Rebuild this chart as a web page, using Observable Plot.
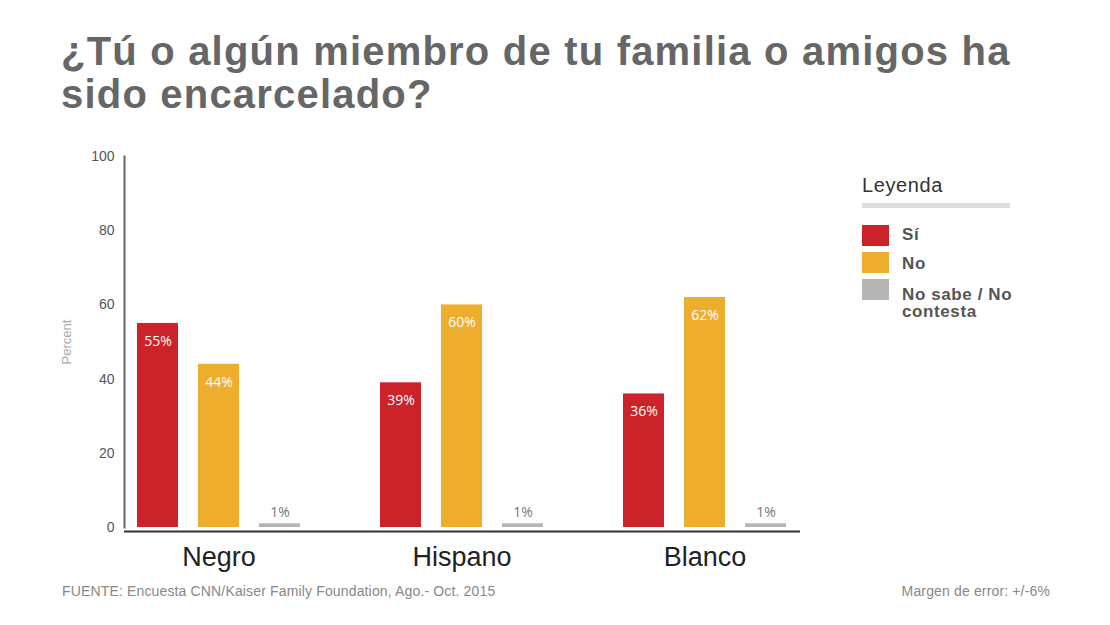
<!DOCTYPE html>
<html>
<head>
<meta charset="utf-8">
<script src="https://cdn.jsdelivr.net/npm/d3@7"></script>
<script src="https://cdn.jsdelivr.net/npm/@observablehq/plot@0.6"></script>
<style>
  html, body { margin: 0; padding: 0; background: #fff; }
  body { width: 1110px; height: 625px; position: relative; overflow: hidden; font-family: "Liberation Sans", Arial, sans-serif; }
  #title { position: absolute; left: 61px; top: 30px; width: 990px; font-size: 40px; line-height: 43px; letter-spacing: 1.2px; font-weight: bold; color: #666; }
  #chart { position: absolute; left: 0; top: 140px; }
  .abs { position: absolute; }
  #leghead { left: 862px; top: 174px; font-size: 20px; letter-spacing: 0.6px; color: #333; line-height: 22px; }
  #legline { left: 862px; top: 203px; width: 148px; height: 5px; background: #ddd; }
  .sw { width: 27px; height: 21px; }
  .lab { font-size: 17px; letter-spacing: 0.6px; font-weight: bold; color: #555; line-height: 17px; width: 150px; }
  #src { left: 62px; top: 583px; font-size: 14px; letter-spacing: 0.15px; color: #888; }
  #moe { right: 60px; top: 583px; font-size: 14px; letter-spacing: 0.15px; color: #888; }
</style>
</head>
<body>
<div id="title">¿Tú o algún miembro de tu familia o amigos ha sido encarcelado?</div>
<div id="chart"></div>
<div id="leghead" class="abs">Leyenda</div>
<div id="legline" class="abs"></div>
<div id="legend"></div>
<div id="src" class="abs">FUENTE: Encuesta CNN/Kaiser Family Foundation, Ago.- Oct. 2015</div>
<div id="moe" class="abs">Margen de error: +/-6%</div>
<script>
const groups = ["Negro", "Hispano", "Blanco"];
const series = ["Sí", "No", "No sabe / No contesta"];
const si = [55, 39, 36];
const no = [44, 60, 62];
const nsnc = [1, 1, 1];
const yTicks = [0, 20, 40, 60, 80, 100];
const colors = ["#cc2229", "#efad2d", "#b5b5b5"];

const valuesBySeries = [si, no, nsnc];
const data = groups.flatMap((g, i) => series.map((s, k) => ({group: g, series: s, value: valuesBySeries[k][i]})));

const offsets = [-61, 0, 61];
const marks = [];
series.forEach((s, k) => {
  const sub = data.filter(d => d.series === s);
  marks.push(Plot.barY(sub, {x: "group", y: "value", fill: "series", insetLeft: 73, insetRight: 73, dx: offsets[k]}));
  if (k < 2) {
    marks.push(Plot.text(sub, {x: "group", y: "value", text: d => d.value + "%", dx: offsets[k], dy: 18, fill: "white", fontSize: 14, fontFamily: "Open Sans, Lato, sans-serif"}));
  } else {
    marks.push(Plot.text(sub, {x: "group", y: "value", text: d => d.value + "%", dx: offsets[k], dy: -11, fill: "#777", fontSize: 14, fontFamily: "Open Sans, Lato, sans-serif"}));
  }
});

const plot = Plot.plot({
  width: 830,
  height: 437,
  marginLeft: 124,
  marginRight: 30,
  marginTop: 16,
  marginBottom: 50,
  style: {fontFamily: "Liberation Sans, Arial, sans-serif", background: "transparent", overflow: "visible"},
  x: {domain: groups, paddingInner: 0.2295, paddingOuter: 0, label: null},
  y: {domain: [0, 100], label: null},
  color: {domain: series, range: colors},
  marks: [
    Plot.frame({anchor: "left", stroke: "#666", strokeWidth: 2}),
    Plot.axisY({ticks: yTicks, tickSize: 0, tickPadding: 10, fontSize: 14, fill: "#555", label: null}),
    Plot.axisX({tickSize: 0, tickPadding: 19, fontSize: 27, fill: "#222", label: null}),
    Plot.text(["Percent"], {frameAnchor: "left", rotate: -90, dx: -58, textAnchor: "middle", fill: "#aaa", fontSize: 13}),
    ...marks,
    Plot.ruleY([0], {dy: 4, stroke: "#333", strokeWidth: 2})
  ]
});
document.getElementById("chart").appendChild(plot);

const legend = document.getElementById("legend");
const swTops = [225, 252, 279];
const labTops = [226, 255, 286];
series.forEach((s, k) => {
  const sw = document.createElement("div");
  sw.className = "abs sw";
  sw.style.left = "862px";
  sw.style.top = swTops[k] + "px";
  sw.style.background = colors[k];
  const lab = document.createElement("div");
  lab.className = "abs lab";
  lab.style.left = "902px";
  lab.style.top = labTops[k] + "px";
  lab.textContent = s;
  legend.appendChild(sw);
  legend.appendChild(lab);
});
</script>
</body>
</html>
